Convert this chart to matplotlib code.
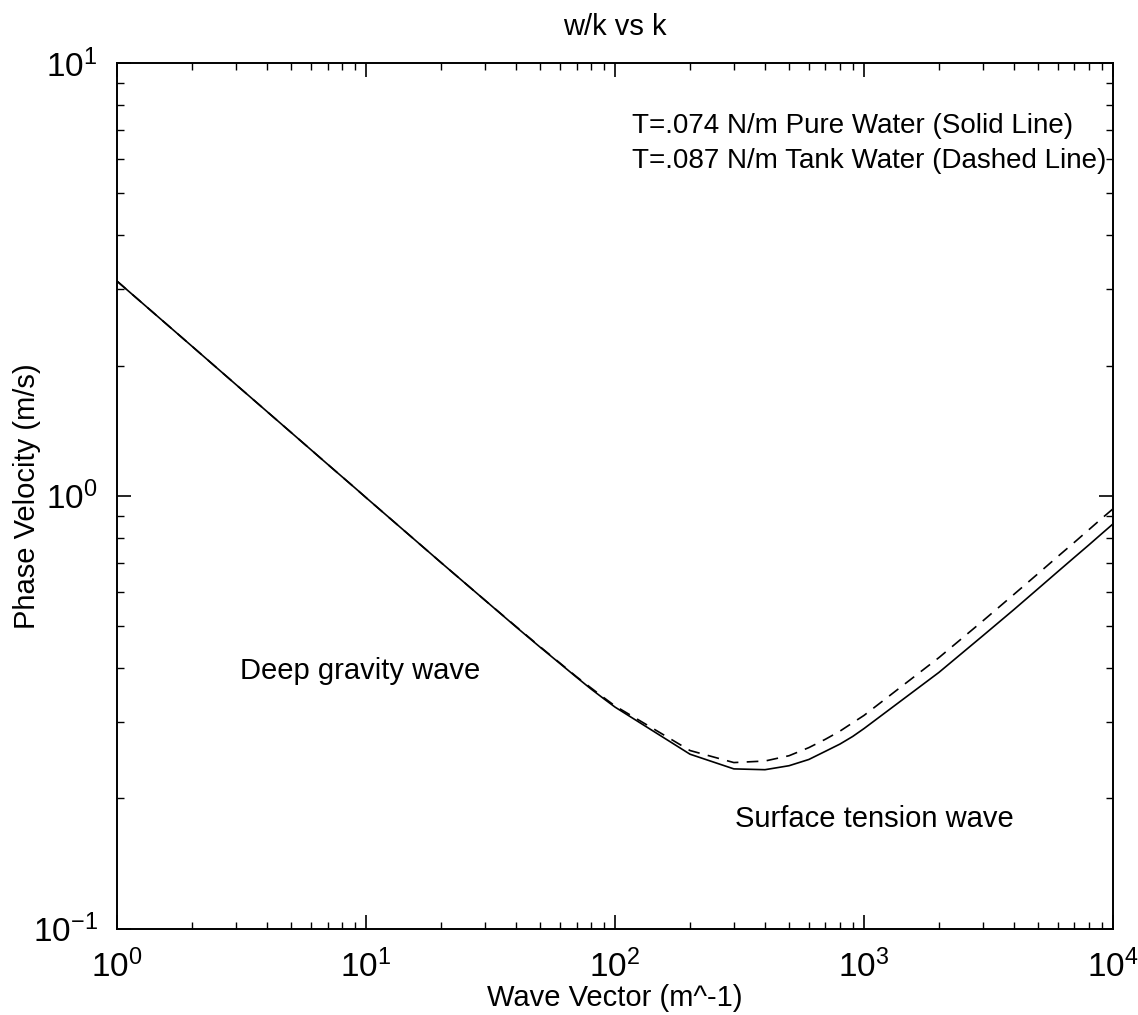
import matplotlib
matplotlib.use("Agg")
import matplotlib.pyplot as plt
from matplotlib.ticker import LogLocator, NullFormatter

# wave vector samples (m^-1)
k_values = [1, 2, 3, 4, 5, 6, 7, 8, 9,
            10, 20, 30, 40, 50, 60, 70, 80, 90,
            100, 200, 300, 400, 500, 600, 700, 800, 900,
            1000, 2000, 3000, 4000, 5000, 6000, 7000, 8000, 9000, 10000]

# phase velocity (m/s), T=.074 N/m, pure water
c_pure = [3.13, 2.214, 1.807, 1.565, 1.400, 1.278, 1.183, 1.107, 1.044,
          0.990, 0.701, 0.574, 0.498, 0.447, 0.410, 0.381, 0.358, 0.340,
          0.325, 0.253, 0.234, 0.233, 0.238, 0.246, 0.257, 0.267, 0.278,
          0.290, 0.391, 0.475, 0.546, 0.610, 0.668, 0.721, 0.770, 0.817, 0.861]

# phase velocity (m/s), T=.087 N/m, tank water
c_tank = [3.13, 2.214, 1.807, 1.565, 1.400, 1.278, 1.183, 1.107, 1.044,
          0.990, 0.701, 0.574, 0.499, 0.448, 0.411, 0.382, 0.360, 0.342,
          0.327, 0.258, 0.242, 0.244, 0.251, 0.262, 0.274, 0.286, 0.299,
          0.311, 0.423, 0.514, 0.592, 0.661, 0.724, 0.781, 0.835, 0.886, 0.933]

plt.rcParams["font.family"] = ["Liberation Sans", "DejaVu Sans"]

fig = plt.figure(figsize=(11.38, 10.15), dpi=100)
ax = fig.add_axes([0.103, 0.085, 0.875, 0.853])

ax.plot(k_values, c_pure, color="black", linewidth=1.2)
ax.plot(k_values, c_tank, color="black", linewidth=1.2, dashes=(7, 5))

ax.set_xscale("log")
ax.set_yscale("log")
ax.set_xlim(1, 1e4)
ax.set_ylim(0.1, 10)

ax.xaxis.set_major_locator(LogLocator(base=10, numticks=10))
ax.yaxis.set_major_locator(LogLocator(base=10, numticks=10))
ax.xaxis.set_minor_locator(LogLocator(base=10, subs=range(2, 10), numticks=20))
ax.yaxis.set_minor_locator(LogLocator(base=10, subs=range(2, 10), numticks=20))
ax.xaxis.set_minor_formatter(NullFormatter())
ax.yaxis.set_minor_formatter(NullFormatter())

ax.tick_params(which="both", direction="in", top=True, right=True, labelsize=24)
ax.tick_params(which="major", length=10, width=1.2)
ax.tick_params(axis="x", which="major", pad=15)
ax.tick_params(axis="y", which="major", pad=14)
ax.tick_params(which="minor", length=5, width=1.0)
for spine in ax.spines.values():
    spine.set_linewidth(1.4)

ax.set_title("w/k vs k", fontsize=21, pad=20)
ax.set_xlabel("Wave Vector (m^-1)", fontsize=21, labelpad=0)
ax.set_ylabel("Phase Velocity (m/s)", fontsize=21, labelpad=-6)

# annotations (baseline positions in axes fractions)
ax.text(0.517, 0.919, "T=.074 N/m Pure Water (Solid Line)", transform=ax.transAxes,
        fontsize=20, va="baseline", ha="left")
ax.text(0.517, 0.879, "T=.087 N/m Tank Water (Dashed Line)", transform=ax.transAxes,
        fontsize=20, va="baseline", ha="left")
ax.text(0.123, 0.289, "Deep gravity wave", transform=ax.transAxes,
        fontsize=21, va="baseline", ha="left")
ax.text(0.620, 0.118, "Surface tension wave", transform=ax.transAxes,
        fontsize=21, va="baseline", ha="left")

fig.savefig("out.png", dpi=100)
